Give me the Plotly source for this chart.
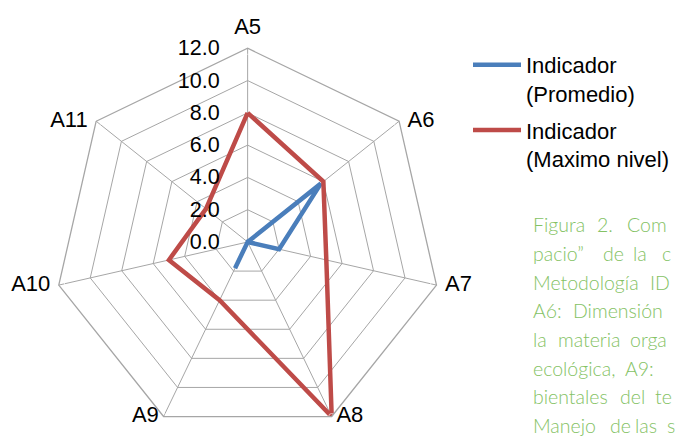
import plotly.graph_objects as go

categories = ["A5", "A6", "A7", "A8", "A9", "A10", "A11"]
promedio = [0.0, 5.8, 2.0, 0.0, 1.8, None, None]
maximo = [8.0, 6.0, 5.0, 12.0, 4.0, 5.0, 3.3]
radial_ticks = [0, 2, 4, 6, 8, 10, 12]
radial_labels = ["0.0", "2.0", "4.0", "6.0", "8.0", "10.0", "12.0"]
label_positions = ["top center", "middle right", "middle right", "middle right",
                   "middle left", "middle left", "middle left"]
label_marker_sizes = [12, 12, 12, 6, 6, 12, 12]

caption_words = [
    [("Figura", 533), ("2.", 597), ("Com", 627)],
    [("pacio”", 533), ("de", 603), ("la", 633), ("c", 662)],
    [("Metodología", 533), ("ID", 650)],
    [("A6:", 533), ("Dimensión", 573)],
    [("la", 533), ("materia", 558), ("orga", 630)],
    [("ecológica,", 533), ("A9:", 625)],
    [("bientales", 533), ("del", 620), ("te", 655)],
    [("Manejo", 533), ("de", 610), ("las", 635), ("s", 667)],
]

W, H = 675, 436
BLUE = "#4a7ebb"
RED = "#be4b48"
GRID = "#a6a6a6"
FONT = "Liberation Sans, Arial, sans-serif"

fig = go.Figure()
fig.add_trace(go.Scatterpolar(
    r=promedio + [promedio[0]], theta=categories + [categories[0]],
    mode="lines", line=dict(color=BLUE, width=4.5),
    name="Indicador<br>(Promedio)", legendgroup="a", connectgaps=False,
    hoverinfo="skip",
))
fig.add_trace(go.Scatterpolar(
    r=maximo + [maximo[0]], theta=categories + [categories[0]],
    mode="lines", line=dict(color=RED, width=4.5),
    name="Indicador<br>(Maximo nivel)", legendgroup="b", hoverinfo="skip",
))
# category labels at the outer ring
fig.add_trace(go.Scatterpolar(
    r=[radial_ticks[-1]] * len(categories), theta=categories,
    mode="markers+text", text=categories, textposition=label_positions,
    marker=dict(size=label_marker_sizes, color="rgba(0,0,0,0)"),
    textfont=dict(size=22, family=FONT, color="black"),
    showlegend=False, hoverinfo="skip", cliponaxis=False,
))

annotations = []
for i, words in enumerate(caption_words):
    y = 225 + i * 28.6
    for w, x in words:
        annotations.append(dict(
            text=w, x=x / W, y=1 - y / H, xref="paper", yref="paper",
            xanchor="left", yanchor="middle", showarrow=False, borderpad=0,
            font=dict(family="Lato, sans-serif", size=19.5, color="#84c264",
                      weight=300),
        ))

fig.update_layout(
    width=W, height=H,
    margin=dict(l=0, r=0, t=0, b=0),
    paper_bgcolor="white",
    font=dict(family=FONT, size=22, color="black"),
    showlegend=True,
    legend=dict(x=469 / W, y=1 - 44 / H, xanchor="left", yanchor="top",
                itemwidth=48, valign="top", tracegroupgap=5,
                font=dict(size=22), bgcolor="rgba(0,0,0,0)"),
    polar=dict(
        domain=dict(x=[54 / W, 442 / W], y=[0, 388 / H]),
        bgcolor="white",
        gridshape="linear",
        radialaxis=dict(
            range=[0, 12], tickvals=radial_ticks, ticktext=radial_labels,
            angle=90, side="counterclockwise", tickangle=90,
            showline=False, gridcolor=GRID, gridwidth=1.3,
            ticks="outside", ticklen=20, tickcolor="rgba(0,0,0,0)",
            tickfont=dict(size=21.5, family=FONT),
        ),
        angularaxis=dict(
            rotation=90, direction="clockwise",
            showline=True, linecolor=GRID, linewidth=1.3,
            gridcolor=GRID, gridwidth=1.3,
            ticks="", showticklabels=False,
        ),
    ),
    annotations=annotations,
)

fig.write_html("out.html", config={"displayModeBar": False},
               post_script="document.body.style.margin='0px';")
